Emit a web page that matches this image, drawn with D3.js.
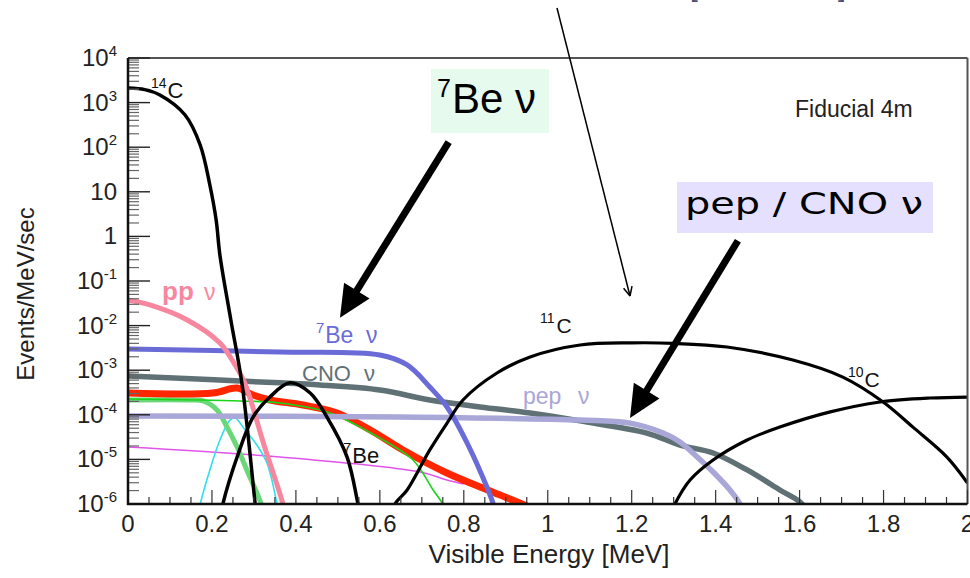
<!DOCTYPE html>
<html>
<head>
<meta charset="utf-8">
<script src="https://cdn.jsdelivr.net/npm/d3@7"></script>
<style>
body{margin:0;background:#fff;}
svg{display:block;font-family:"Liberation Sans",Arial,sans-serif;}
</style>
</head>
<body>
<svg id="chart" width="970" height="578"></svg>
<script>
// spectra: [visible energy MeV, events/MeV/sec]
var c14 = [[0,2120],[0.040,1950],[0.076,1480],[0.136,527],[0.172,112],[0.195,14.2],[0.210,2.33],[0.219,0.38],[0.245,0.0134],[0.272,4.66e-4],[0.303,1e-6],[0.308,4e-7]];
var ppNu = [[0,3.75e-2],[0.052,2.9e-2],[0.141,1.34e-2],[0.219,4.07e-3],[0.255,1.31e-3],[0.279,4.9e-4],[0.324,2.1e-5],[0.369,1e-6],[0.375,5e-7]];
var be7Nu = [[0,2.99e-3],[0.362,2.56e-3],[0.600,2.19e-3],[0.665,1.31e-3],[0.719,4.2e-4],[0.760,1.5e-4],[0.808,2.33e-5],[0.855,2.4e-6],[0.870,1e-6],[0.876,5e-7]];
var cnoNu = [[0,7.4e-4],[0.362,5.2e-4],[0.457,4.65e-4],[0.600,3.6e-4],[0.719,2.15e-4],[0.839,1.5e-4],[0.958,1.1e-4],[1.077,7.3e-5],[1.236,3.9e-5],[1.315,2.1e-5],[1.394,1.39e-5],[1.475,5.8e-6],[1.553,2.06e-6],[1.606,1e-6],[1.62,5e-7]];
var pepNu = [[0,9.4e-5],[0.648,8.9e-5],[1.077,7.6e-5],[1.196,6.5e-5],[1.275,3.9e-5],[1.315,2.45e-5],[1.356,1.13e-5],[1.394,5.2e-6],[1.434,2.06e-6],[1.458,1e-6],[1.47,5e-7]];
var redSum = [[0,3.08e-4],[0.202,3.08e-4],[0.260,4.0e-4],[0.298,2.78e-4],[0.338,2.15e-4],[0.417,1.66e-4],[0.498,1.1e-4],[0.577,4.56e-5],[0.655,1.63e-5],[0.760,4.95e-6],[0.839,2.4e-6],[0.898,1.44e-6],[0.95,9e-7]];
var greenThin = [[0,2.26e-4],[0.267,2.04e-4],[0.362,1.84e-4],[0.481,1.1e-4],[0.600,3.0e-5],[0.679,9.7e-6],[0.727,2.06e-6],[0.750,1e-6],[0.76,6e-7]];
var greenThick = [[0,2.15e-4],[0.148,2.15e-4],[0.179,2.04e-4],[0.212,1.28e-4],[0.236,5.3e-5],[0.260,1.9e-5],[0.283,5.8e-6],[0.307,1.77e-6],[0.317,1e-6],[0.322,6e-7]];
var cyanLine = [[0.165,5e-7],[0.172,1e-6],[0.195,5.8e-6],[0.219,2.72e-5],[0.243,7.6e-5],[0.255,8.5e-5],[0.279,4.56e-5],[0.307,2.1e-5],[0.331,8.3e-6],[0.355,1e-6],[0.36,5e-7]];
var magentaLine = [[0,1.9e-5],[0.362,1.13e-5],[0.696,5.2e-6],[0.760,3.45e-6],[0.80,2.8e-6]];
var be7Bump = [[0.22,5e-7],[0.226,1e-6],[0.260,1.13e-5],[0.298,8.9e-5],[0.338,2.5e-4],[0.386,5.2e-4],[0.434,3.08e-4],[0.474,8.9e-5],[0.522,1.13e-5],[0.548,1e-6],[0.555,5e-7]];
var c11 = [[0.628,5e-7],[0.636,1e-6],[0.665,2.06e-6],[0.719,1.63e-5],[0.760,6.5e-5],[0.798,2.15e-4],[0.879,8.65e-4],[0.958,1.98e-3],[1.077,3.67e-3],[1.200,4.1e-3],[1.300,4.0e-3],[1.427,3.31e-3],[1.584,1.69e-3],[1.703,7.0e-4],[1.799,1.94e-4],[1.870,5.3e-5],[1.951,1.13e-5],[2.0,2.96e-6]];
var c10 = [[1.29,5e-7],[1.303,1e-6],[1.339,3.45e-6],[1.394,9.7e-6],[1.475,2.72e-5],[1.553,5.3e-5],[1.673,1.16e-4],[1.792,1.94e-4],[1.911,2.38e-4],[2.0,2.5e-4]];

var xTicks = [0,0.2,0.4,0.6,0.8,1,1.2,1.4,1.6,1.8,2];
var xTickLabels = ["0","0.2","0.4","0.6","0.8","1","1.2","1.4","1.6","1.8","2"];
var yExponents = [4,3,2,1,0,-1,-2,-3,-4,-5,-6];

var svg = d3.select("#chart");
var pLeft = 128, pRight = 967.5, pTop = 58, pBottom = 504;

var x = d3.scaleLinear().domain([0,2]).range([pLeft,pRight]);
var y = d3.scaleLog().domain([1e-6,1e4]).range([pBottom,pTop]);

svg.append("clipPath").attr("id","plotclip")
  .append("rect").attr("x",pLeft).attr("y",pTop).attr("width",pRight-pLeft).attr("height",pBottom-pTop);

// draw order matters: thin ones below, black on top
var series = [
  {d:magentaLine, c:"#e055e8", w:1.5},
  {d:cyanLine, c:"#2fe0ea", w:1.6},
  {d:greenThick, c:"#6ad878", w:5},
  {d:redSum, c:"#ff2600", w:7},
  {d:greenThin, c:"#18d418", w:1.6},
  {d:cnoNu, c:"#5f7174", w:5.5},
  {d:pepNu, c:"#a9a6d8", w:5.5},
  {d:be7Nu, c:"#6b6bd8", w:5},
  {d:ppNu, c:"#f7879f", w:5},
  {d:be7Bump, c:"#000", w:3.5},
  {d:c14, c:"#000", w:3.5},
  {d:c11, c:"#000", w:3.2},
  {d:c10, c:"#000", w:3.2}
];

var line = d3.line()
  .x(function(p){ return x(p[0]); })
  .y(function(p){ return y(p[1]); })
  .curve(d3.curveCatmullRom.alpha(0.5));

var g = svg.append("g").attr("clip-path","url(#plotclip)");
g.selectAll("path").data(series).join("path")
  .attr("d", function(s){ return line(s.d); })
  .attr("fill","none")
  .attr("stroke", function(s){ return s.c; })
  .attr("stroke-width", function(s){ return s.w; })
  .attr("stroke-linejoin","round");

// frame
svg.append("line").attr("x1",pLeft).attr("x2",pRight).attr("y1",pTop).attr("y2",pTop).attr("stroke","#555").attr("stroke-width",2);
svg.append("line").attr("x1",pRight).attr("x2",pRight).attr("y1",pTop).attr("y2",pBottom).attr("stroke","#555").attr("stroke-width",2);

// y ticks, major + minor
var ax = svg.append("g");
yExponents.forEach(function(e){
  var v = Math.pow(10,e);
  ax.append("line").attr("x1",pLeft).attr("x2",pLeft+22).attr("y1",y(v)).attr("y2",y(v)).attr("stroke","#222").attr("stroke-width",1.4);
  if (e < 4) {
    for (var k=2;k<10;k++) {
      var yy = y(k*v);
      ax.append("line").attr("x1",pLeft).attr("x2",pLeft+11).attr("y1",yy).attr("y2",yy).attr("stroke","#666").attr("stroke-width",1.2);
    }
  }
  var t = ax.append("text").attr("x",117).attr("y",y(v)+8).attr("text-anchor","end")
    .attr("font-size",24).attr("fill","#222");
  if (e == 0) t.text("1");
  else if (e == 1) t.text("10");
  else {
    t.append("tspan").text("10");
    t.append("tspan").attr("dy",-10).attr("font-size",15).text(e);
  }
});

// x ticks
d3.range(0,2.0001,0.05).forEach(function(v){
  var major = Math.abs(v/0.2 - Math.round(v/0.2)) < 1e-6;
  ax.append("line").attr("x1",x(v)).attr("x2",x(v)).attr("y1",pBottom).attr("y2",pBottom-(major?14:7))
    .attr("stroke","#333").attr("stroke-width",1.2);
});
ax.selectAll("text.xl").data(xTicks).join("text").attr("class","xl")
  .attr("x",function(d){ return x(d); }).attr("y",532)
  .attr("text-anchor","middle").attr("font-size",24).attr("fill","#222")
  .text(function(d,i){ return xTickLabels[i]; });

// axis lines
svg.append("line").attr("x1",pLeft).attr("x2",pLeft).attr("y1",pTop).attr("y2",pBottom+1).attr("stroke","#111").attr("stroke-width",2.5);
svg.append("line").attr("x1",pLeft-1).attr("x2",pRight).attr("y1",pBottom).attr("y2",pBottom).attr("stroke","#111").attr("stroke-width",2.5);

// axis titles
svg.append("text").attr("x",549).attr("y",563).attr("text-anchor","middle").attr("font-size",26).attr("fill","#222").text("Visible Energy [MeV]");
svg.append("text").attr("transform","translate(34,294) rotate(-90)").attr("text-anchor","middle").attr("font-size",24).attr("fill","#222").text("Events/MeV/sec");

svg.append("text").attr("x",795).attr("y",117).attr("font-size",23).attr("fill","#222").text("Fiducial 4m");

// curve labels
function iso(xp, yp, mass, name, col, big, small) {
  svg.append("text").attr("x",xp).attr("y",yp-10).attr("font-size",small).attr("fill",col).text(mass);
  svg.append("text").attr("x",xp+ (mass.length*small*0.55)+1).attr("y",yp).attr("font-size",big).attr("fill",col).text(name);
}
iso(151, 98, "14", "C", "#111", 22, 14);
iso(540, 333, "11", "C", "#111", 21, 14);
iso(848, 387, "10", "C", "#111", 21, 14);
iso(343, 463, "7", "Be", "#111", 22, 15);
iso(316, 343, "7", "Be", "#6b6bd8", 23, 15);
svg.append("text").attr("x",366).attr("y",343).attr("font-size",23).attr("fill","#6b6bd8").text("ν");
svg.append("text").attr("x",302).attr("y",381).attr("font-size",22).attr("fill","#5f7174").text("CNO");
svg.append("text").attr("x",364).attr("y",381).attr("font-size",22).attr("fill","#5f7174").text("ν");
svg.append("text").attr("x",523).attr("y",404).attr("font-size",23).attr("fill","#a9a6d8").text("pep");
svg.append("text").attr("x",578).attr("y",404).attr("font-size",23).attr("fill","#a9a6d8").text("ν");
svg.append("text").attr("x",162).attr("y",300).attr("font-size",26).attr("font-weight","bold").attr("fill","#f7879f").text("pp");
svg.append("text").attr("x",204).attr("y",300).attr("font-size",23).attr("fill","#f7879f").text("ν");

// boxed callouts
svg.append("rect").attr("x",431).attr("y",69).attr("width",118).attr("height",64).attr("fill","#e6fbee");
svg.append("text").attr("x",437).attr("y",97).attr("font-size",25).attr("fill","#000").text("7");
svg.append("text").attr("x",452).attr("y",113).attr("font-size",42).attr("fill","#000").text("Be ν");

svg.append("rect").attr("x",677).attr("y",182).attr("width",256).attr("height",51).attr("fill","#e4e0fd");
svg.append("text").attr("x",685).attr("y",214).attr("font-family","DejaVu Sans").attr("font-size",31).attr("fill","#000")
  .attr("textLength",238).attr("lengthAdjust","spacingAndGlyphs").text("pep / CNO ν");

// cut-off text at the very top
svg.append("text").attr("x",690).attr("y",-4).attr("font-size",28).attr("fill","#4a4a70").text("[");
svg.append("text").attr("x",838).attr("y",-4).attr("font-size",28).attr("fill","#4a4a70").text("]");

// arrows
function bigArrow(x1, y1, x2, y2) {
  var dx = x2-x1, dy = y2-y1, L = Math.sqrt(dx*dx+dy*dy);
  var ux = dx/L, uy = dy/L, hl = 32, hw = 15;
  var bx = x2-ux*hl, by = y2-uy*hl;
  svg.append("line").attr("x1",x1).attr("y1",y1).attr("x2",bx+ux*4).attr("y2",by+uy*4).attr("stroke","#000").attr("stroke-width",7);
  svg.append("path").attr("d","M"+x2+","+y2+"L"+(bx-uy*hw)+","+(by+ux*hw)+"L"+(bx+uy*hw)+","+(by-ux*hw)+"Z").attr("fill","#000");
}
bigArrow(x(0.764), y(130), x(0.505), y(1.5e-2));
bigArrow(x(1.453), y(0.8), x(1.196), y(8.5e-5));

// thin arrow from the top
var tx = x(1.196), ty = 296;
svg.append("line").attr("x1",557).attr("y1",8).attr("x2",tx).attr("y2",ty).attr("stroke","#000").attr("stroke-width",1.5);
var ang = Math.atan2(ty-8, tx-557);
[0.45,-0.45].forEach(function(a){
  svg.append("line").attr("x1",tx).attr("y1",ty)
    .attr("x2",tx-10*Math.cos(ang+a)).attr("y2",ty-10*Math.sin(ang+a))
    .attr("stroke","#000").attr("stroke-width",1.5);
});
</script>
</body>
</html>
